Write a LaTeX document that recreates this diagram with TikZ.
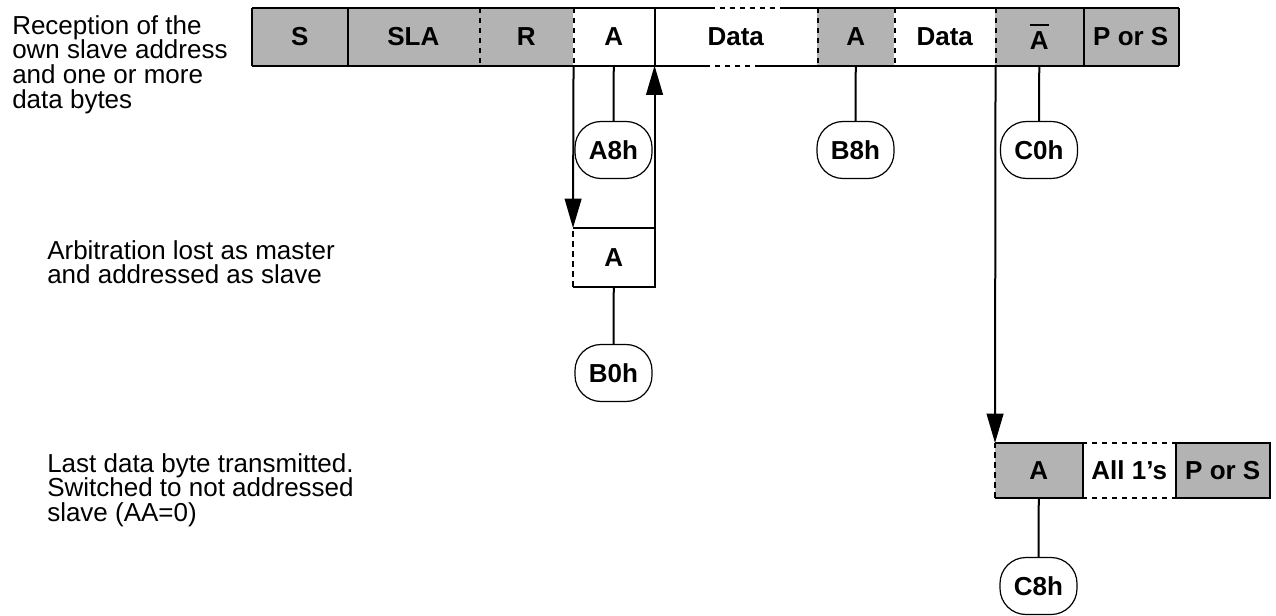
\documentclass[tikz,border=0pt]{standalone}
\usepackage{fontspec}
\setmainfont{Liberation Sans}
\usetikzlibrary{arrows.meta}
\definecolor{cellgray}{RGB}{179,179,179}
\newcommand{\barA}{\vbox{\hrule height 1.3pt \kern 4.5pt \hbox{A}}}
\tikzset{
  cell/.style={inner sep=0pt,anchor=north west,font=\bfseries\fontsize{19.5}{18.5}\selectfont},
  graycell/.style={cell,fill=cellgray},
  whitecell/.style={cell,fill=white},
  oval/.style={draw,line width=0.9pt,rounded corners=19.5pt,minimum width=57.75pt,minimum height=42.75pt,inner sep=0pt,font=\bfseries\fontsize{19.5}{18.5}\selectfont},
  rim/.style={line width=1.5pt},
  dashrim/.style={line width=1.5pt,dash pattern=on 4pt off 3.5pt},
  flow/.style={line width=1.5pt,-{Triangle[length=22pt,width=12.5pt]}},
  note/.style={align=left,inner sep=0pt,anchor=north west,font=\fontsize{19.5}{18.5}\selectfont}
}
\begin{document}
\begin{tikzpicture}[x=0.75pt,y=-0.75pt]
  \useasboundingbox (0,0) rectangle (1276,616);
  % left notes
  \node[note] (recv) at (12,15) {Reception of the\\own slave address\\and one or more\\data bytes};
  \node[note] (arb) at (47,240) {Arbitration lost as master\\and addressed as slave};
  \node[note] (last) at (47,453) {Last data byte transmitted.\\Switched to not addressed\\slave (AA=0)};
  % top row
  \node[graycell,minimum width=71.25pt,minimum height=42.75pt] (S) at (252,8) {S};
  \node[graycell,minimum width=99pt,minimum height=42.75pt] (SLA) at (347,8) {SLA};
  \node[graycell,minimum width=70.5pt,minimum height=42.75pt] (R) at (479,8) {R};
  \node[whitecell,minimum width=60.75pt,minimum height=42.75pt] (A1) at (573,8) {A};
  \node[whitecell,minimum width=122.25pt,minimum height=42.75pt] (D1) at (654,8) {Data};
  \node[graycell,minimum width=57.75pt,minimum height=42.75pt] (A2) at (817,8) {A};
  \node[whitecell,minimum width=75.75pt,minimum height=42.75pt] (D2) at (894,8) {Data};
  \node[graycell,minimum width=66pt,minimum height=42.75pt] (NA) at (995,8) {\barA};
  \node[graycell,minimum width=71.25pt,minimum height=42.75pt] (PS1) at (1083,8) {P or S};
  \draw[rim] (S.north west) -- ([xshift=42pt]D1.north west);
  \draw[dashrim] ([xshift=42pt]D1.north west) -- ([xshift=94.5pt]D1.north west);
  \draw[rim] ([xshift=94.5pt]D1.north west) -- (PS1.north east);
  \draw[rim] (S.south west) -- ([xshift=38.25pt]D1.south west);
  \draw[dashrim] ([xshift=38.25pt]D1.south west) -- ([xshift=79.5pt]D1.south west);
  \draw[rim] ([xshift=79.5pt]D1.south west) -- (PS1.south east);
  \draw[rim] (S.north west) -- (S.south west);
  \draw[rim] (S.north east) -- (S.south east);
  \draw[dashrim] (SLA.north east) -- (SLA.south east);
  \draw[dashrim] (R.north east) -- (R.south east);
  \draw[rim] (A1.north east) -- (A1.south east);
  \draw[dashrim] (D1.north east) -- (D1.south east);
  \draw[dashrim] (A2.north east) -- (A2.south east);
  \draw[dashrim] (D2.north east) -- (D2.south east);
  \draw[rim] (NA.north east) -- (NA.south east);
  \draw[rim] (PS1.north east) -- (PS1.south east);
  % second row
  \node[whitecell,minimum width=60.75pt,minimum height=43.5pt] (A3) at (573,228) {A};
  \draw[rim] (A3.north west) -- (A3.north east) -- (A3.south east) -- (A3.south west);
  \draw[dashrim] (A3.south west) -- (A3.north west);
  % third row
  \node[graycell,minimum width=65.25pt,minimum height=40.5pt] (A4) at (995,443) {A};
  \node[whitecell,minimum width=70.5pt,minimum height=40.5pt] (ALL) at (1082,443) {All 1’s};
  \node[graycell,minimum width=69.75pt,minimum height=40.5pt] (PS2) at (1176,443) {P or S};
  \draw[rim] (A4.north west) -- (A4.north east) -- (A4.south east) -- (A4.south west);
  \draw[dashrim] (A4.south west) -- (A4.north west);
  \draw[dashrim] (ALL.north west) -- (ALL.north east);
  \draw[dashrim] (ALL.south west) -- (ALL.south east);
  \draw[rim] (PS2.north west) rectangle (PS2.south east);
  % status codes
  \node[oval] (A8h) at (613.5,150) {A8h};
  \node[oval] (B8h) at (855.5,150) {B8h};
  \node[oval] (C0h) at (1039,150) {C0h};
  \node[oval] (B0h) at (613.5,373) {B0h};
  \node[oval] (C8h) at (1038.5,586) {C8h};
  \draw[rim] (A1.south) -- (A8h.north);
  \draw[rim] (A2.south) -- (B8h.north);
  \draw[rim] (NA.south) -- (C0h.north);
  \draw[rim] (A3.south) -- (B0h.north);
  \draw[rim] (A4.south) -- (C8h.north);
  % flow arrows
  \draw[flow] (R.south east) -- (A3.north west);
  \draw[flow] (A3.north east) -- (A1.south east);
  \draw[flow] (D2.south east) -- (A4.north west);
\end{tikzpicture}
\end{document}
